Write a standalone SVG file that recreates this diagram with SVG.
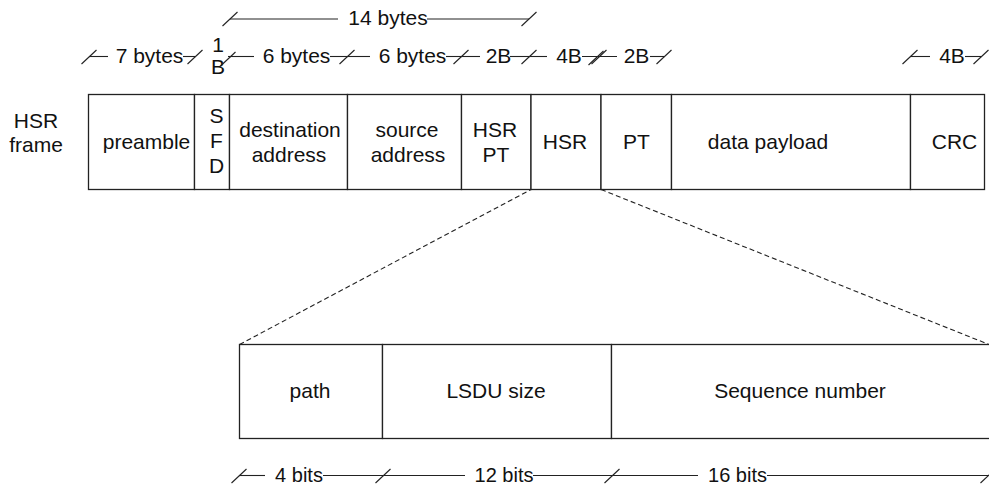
<svg xmlns="http://www.w3.org/2000/svg" xmlns:xlink="http://www.w3.org/1999/xlink" width="989" height="487" viewBox="0 0 989 487">
<style>
  .box { fill: #ffffff; stroke: #222222; stroke-width: 1.3; }
  .t { font-family: "Liberation Sans", Arial, sans-serif; font-size: 21px; fill: #111111; text-anchor: middle; }
  .tb { font-family: "Liberation Sans", Arial, sans-serif; font-size: 20px; fill: #111111; text-anchor: middle; }
  .dim { stroke: #222222; stroke-width: 1.1; fill: none; }
  .dash { stroke: #222222; stroke-width: 1.1; fill: none; stroke-dasharray: 5 3; }
</style>
<defs>
  <path id="tick" d="M -7.5 7 L 7.5 -7" stroke="#222222" stroke-width="1.1" fill="none"/>
</defs>
<rect x="0" y="0" width="989" height="487" fill="#ffffff"/>

<g id="label-hsr-frame">
  <text class="t" x="36" y="128">HSR</text>
  <text class="t" x="36" y="152">frame</text>
</g>

<g id="preamble"><rect class="box" x="88.5" y="94.5" width="106" height="95"/><text class="t" x="146.5" y="149">preamble</text></g>
<g id="sfd"><rect class="box" x="194.5" y="94.5" width="35" height="95"/>
  <text class="t" x="216.5" y="123">S</text><text class="t" x="216.5" y="148">F</text><text class="t" x="216.5" y="173">D</text></g>
<g id="destination"><rect class="box" x="229.5" y="94.5" width="118" height="95"/>
  <text class="t" x="290" y="137">destination</text><text class="t" x="289" y="162">address</text></g>
<g id="source"><rect class="box" x="347.5" y="94.5" width="114" height="95"/>
  <text class="t" x="407" y="137">source</text><text class="t" x="408" y="162">address</text></g>
<g id="hsr-pt"><rect class="box" x="461.5" y="94.5" width="69.5" height="95"/>
  <text class="t" x="495" y="137">HSR</text><text class="t" x="496" y="162">PT</text></g>
<g id="hsr"><rect class="box" x="531" y="94.5" width="70" height="95"/><text class="t" x="565" y="149">HSR</text></g>
<g id="pt"><rect class="box" x="601" y="94.5" width="70.5" height="95"/><text class="t" x="636.5" y="149">PT</text></g>
<g id="payload"><rect class="box" x="671.5" y="94.5" width="239" height="95"/><text class="t" x="768" y="149">data payload</text></g>
<g id="crc"><rect class="box" x="910.5" y="94.5" width="74" height="95"/><text class="t" x="954.5" y="149">CRC</text></g>

<g id="path"><rect class="box" x="239.5" y="344.5" width="143" height="94"/><text class="t" x="310" y="398">path</text></g>
<g id="lsdu"><rect class="box" x="382.5" y="344.5" width="229" height="94"/><text class="t" x="496" y="398">LSDU size</text></g>
<g id="seq"><rect class="box" x="611.5" y="344.5" width="380" height="94"/><text class="t" x="800" y="398">Sequence number</text></g>

<g id="connectors">
  <line class="dash" x1="239.5" y1="344.5" x2="531" y2="189.5"/>
  <line class="dash" x1="601" y1="189.5" x2="989" y2="344.5"/>
</g>

<g id="dimensions">
  <!-- 14 bytes -->
  <use xlink:href="#tick" x="230" y="19"/>
  <line class="dim" x1="230" y1="19" x2="338" y2="19"/>
  <text class="t" x="388" y="25">14 bytes</text>
  <line class="dim" x1="427" y1="19" x2="529" y2="19"/>
  <use xlink:href="#tick" x="529" y="19"/>

  <!-- row 2 -->
  <use xlink:href="#tick" x="89" y="57"/>
  <line class="dim" x1="89" y1="56.5" x2="108" y2="56.5"/>
  <text class="t" x="149.5" y="63">7 bytes</text>
  <line class="dim" x1="183" y1="56.5" x2="195" y2="56.5"/>
  <use xlink:href="#tick" x="195" y="57"/>
  <text class="t" x="218" y="52">1</text>
  <text class="t" x="218" y="74">B</text>
  <use xlink:href="#tick" x="228" y="59"/>
  <line class="dim" x1="228" y1="56.5" x2="254" y2="56.5"/>
  <text class="t" x="296.5" y="63">6 bytes</text>
  <line class="dim" x1="330" y1="56.5" x2="347" y2="56.5"/>
  <use xlink:href="#tick" x="347" y="57"/>
  <line class="dim" x1="347" y1="56.5" x2="370" y2="56.5"/>
  <text class="t" x="412.5" y="63">6 bytes</text>
  <line class="dim" x1="446" y1="56.5" x2="461" y2="56.5"/>
  <use xlink:href="#tick" x="461" y="57"/>
  <line class="dim" x1="461" y1="56.5" x2="480" y2="56.5"/>
  <text class="t" x="498.5" y="63">2B</text>
  <line class="dim" x1="510" y1="56.5" x2="529" y2="56.5"/>
  <use xlink:href="#tick" x="529" y="57"/>
  <line class="dim" x1="529" y1="56.5" x2="547" y2="56.5"/>
  <text class="t" x="569" y="63">4B</text>
  <line class="dim" x1="582" y1="56.5" x2="617" y2="56.5"/>
  <use xlink:href="#tick" x="596" y="58"/>
  <use xlink:href="#tick" x="599" y="57"/>
  <text class="t" x="636.5" y="63">2B</text>
  <line class="dim" x1="650" y1="56.5" x2="664" y2="56.5"/>
  <use xlink:href="#tick" x="664" y="57"/>

  <use xlink:href="#tick" x="910" y="57"/>
  <line class="dim" x1="910" y1="56.5" x2="930" y2="56.5"/>
  <text class="t" x="952" y="63">4B</text>
  <line class="dim" x1="965" y1="56.5" x2="981" y2="56.5"/>
  <use xlink:href="#tick" x="981" y="57"/>

  <!-- bottom row -->
  <use xlink:href="#tick" x="239" y="476"/>
  <line class="dim" x1="239" y1="475.5" x2="265" y2="475.5"/>
  <text class="tb" x="299" y="482">4 bits</text>
  <line class="dim" x1="323" y1="475.5" x2="383" y2="475.5"/>
  <use xlink:href="#tick" x="383" y="476"/>
  <line class="dim" x1="383" y1="475.5" x2="465" y2="475.5"/>
  <text class="tb" x="504" y="482">12 bits</text>
  <line class="dim" x1="533" y1="475.5" x2="612" y2="475.5"/>
  <use xlink:href="#tick" x="612" y="476"/>
  <line class="dim" x1="612" y1="475.5" x2="698" y2="475.5"/>
  <text class="tb" x="737.5" y="482">16 bits</text>
  <line class="dim" x1="767" y1="475.5" x2="989" y2="475.5"/>
  <use xlink:href="#tick" x="988" y="476"/>
</g>
</svg>
